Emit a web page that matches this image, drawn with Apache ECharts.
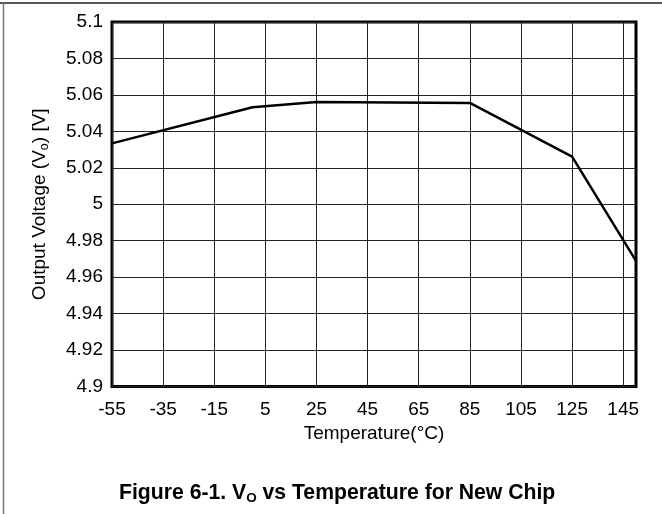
<!DOCTYPE html>
<html>
<head>
<meta charset="utf-8">
<script src="https://cdn.jsdelivr.net/npm/echarts@6/dist/echarts.min.js"></script>
<style>html,body{margin:0;padding:0;background:#fff}#c{width:662px;height:514px}</style>
</head>
<body>
<div id="c"></div>
<script>
// Data
var temperatures = [-55, 0, 25, 85, 125, 150];
var voltages = [5.0334, 5.0532, 5.0561, 5.0556, 5.0261, 4.9689];
var xTicks = [-55, -35, -15, 5, 25, 45, 65, 85, 105, 125, 145];
var xRange = [-55, 150];
var yRange = [4.9, 5.1];
var yStep = 0.02;

var FONT = '"Liberation Sans", Arial, sans-serif';
var chart = echarts.init(document.getElementById('c'), null, {renderer: 'canvas'});
var pts = temperatures.map(function (t, i) { return [t, voltages[i]]; });

chart.setOption({
  animation: false,
  backgroundColor: '#fff',
  textStyle: {fontFamily: FONT},
  title: {
    text: '{n|Figure 6-1. V}{s|O}{n| vs Temperature for New Chip}',
    left: 114,
    top: 476,
    textStyle: {
      fontFamily: FONT,
      rich: {
        n: {fontSize: 21.2, fontWeight: 'bold', color: '#000', fontFamily: FONT, lineHeight: 24},
        s: {fontSize: 13.5, fontWeight: 'bold', color: '#000', fontFamily: FONT, verticalAlign: 'bottom', lineHeight: 13}
      }
    }
  },
  grid: {
    left: 112, top: 22, right: 26, bottom: 127.5,
    show: true, borderColor: '#000', borderWidth: 3, backgroundColor: 'transparent',
    containLabel: false
  },
  xAxis: {
    type: 'value',
    min: xRange[0], max: xRange[1],
    name: 'Temperature(°C)',
    nameLocation: 'middle',
    nameGap: 33,
    nameTextStyle: {fontSize: 19, color: '#000', fontFamily: FONT},
    axisLine: {show: false},
    axisTick: {show: false, customValues: xTicks},
    axisLabel: {customValues: xTicks, fontSize: 19, color: '#000', fontFamily: FONT, margin: 14},
    splitLine: {show: true, lineStyle: {color: '#222', width: 1}}
  },
  yAxis: {
    type: 'value',
    min: yRange[0], max: yRange[1], interval: yStep,
    name: '{n|Output Voltage (V}{s|o}{n|) [V]}',
    nameLocation: 'middle',
    nameGap: 61,
    nameTextStyle: {
      fontFamily: FONT,
      rich: {
        n: {fontSize: 19, color: '#000', fontFamily: FONT, lineHeight: 23},
        s: {fontSize: 12.5, color: '#000', fontFamily: FONT, verticalAlign: 'bottom', lineHeight: 12}
      }
    },
    axisLine: {show: false},
    axisTick: {show: false},
    axisLabel: {
      fontSize: 19, color: '#000', fontFamily: FONT, margin: 9,
      formatter: function (v) { return String(+v.toFixed(2)); }
    },
    splitLine: {show: true, lineStyle: {color: '#222', width: 1}}
  },
  series: [{
    type: 'line',
    data: pts,
    symbol: 'none',
    lineStyle: {color: '#000', width: 2.5},
    z: 5
  }],
  graphic: [
    {type: 'line', shape: {x1: 0, y1: 3, x2: 662, y2: 3}, style: {stroke: '#222', lineWidth: 1.5}},
    {type: 'line', shape: {x1: 3.5, y1: 3, x2: 3.5, y2: 514}, style: {stroke: '#777', lineWidth: 1.5}}
  ]
});
</script>
</body>
</html>
